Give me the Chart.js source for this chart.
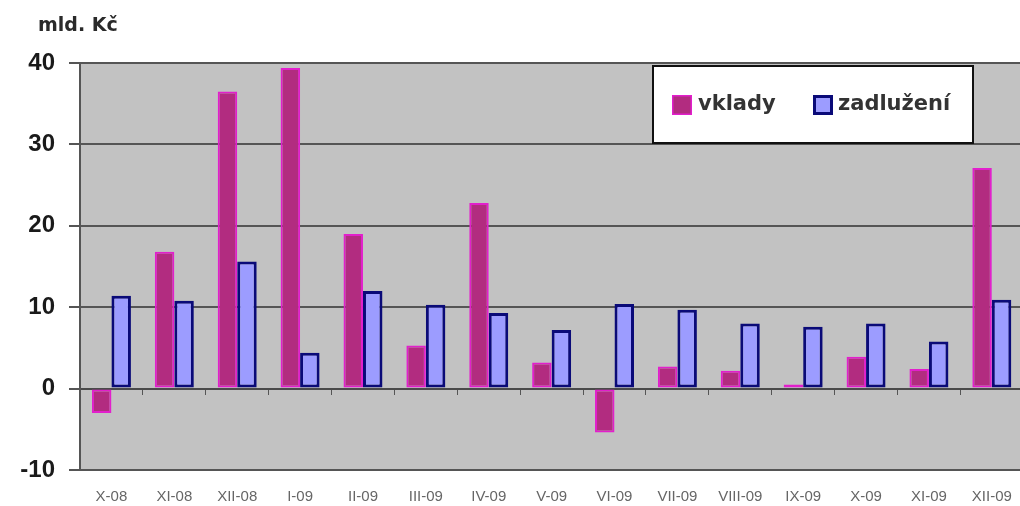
<!DOCTYPE html>
<html>
<head>
<meta charset="utf-8">
<script src="https://cdn.jsdelivr.net/npm/chart.js@4/dist/chart.umd.min.js"></script>
<style>
  html, body { margin: 0; padding: 0; background: #ffffff; overflow: hidden; }
  #wrap { width: 1020px; height: 506px; overflow: hidden; position: relative; }
  canvas { display: block; }
</style>
</head>
<body>
<div id="wrap"><canvas id="c" width="1030" height="506"></canvas></div>
<script>
// Monthly change, bn CZK
const months = ['X-08', 'XI-08', 'XII-08', 'I-09', 'II-09', 'III-09', 'IV-09', 'V-09',
                'VI-09', 'VII-09', 'VIII-09', 'IX-09', 'X-09', 'XI-09', 'XII-09'];
const vklady = [-3.0, 16.8, 36.5, 39.4, 19.0, 5.3, 22.8, 3.2, -5.4, 2.7, 2.2, 0.5, 3.9, 2.4, 27.1];
const zadluzeni = [11.4, 10.8, 15.6, 4.4, 12.0, 10.3, 9.3, 7.2, 10.4, 9.7, 8.0, 7.6, 8.0, 5.8, 10.9];
const yTicks = { min: -10, max: 40, step: 10 };
const unitLabel = 'mld. Kč';

const FONT = '"Liberation Sans", Arial, sans-serif';
const WIDE = '"DejaVu Sans", sans-serif';

// grey plot background
const plotBg = {
  id: 'plotBg',
  beforeDraw(chart) {
    const { ctx, chartArea: a } = chart;
    ctx.save();
    ctx.fillStyle = '#c2c2c2';
    ctx.fillRect(a.left, a.top, a.right - a.left, a.bottom - a.top);
    ctx.restore();
  }
};

// unit caption above the value axis and the boxed legend inside the plot
const decorations = {
  id: 'decorations',
  afterDraw(chart) {
    const { ctx, chartArea: a } = chart;
    ctx.save();
    ctx.fillStyle = '#2a2a2a';
    ctx.font = 'bold 19px ' + WIDE;
    ctx.textBaseline = 'middle';
    ctx.textAlign = 'left';
    ctx.fillText(unitLabel, a.left - 42, a.top - 37);

    const bx = a.left + 573, by = a.top + 3, bw = 320, bh = 77;
    ctx.fillStyle = '#ffffff';
    ctx.fillRect(bx, by, bw, bh);
    ctx.strokeStyle = '#111';
    ctx.lineWidth = 2;
    ctx.strokeRect(bx, by, bw, bh);

    const ds = chart.data.datasets;
    const items = [{ x: bx + 19, tx: bx + 45 }, { x: bx + 160, tx: bx + 185 }];
    ctx.font = 'bold 21px ' + WIDE;
    ds.forEach((d, i) => {
      const it = items[i];
      const sy = by + 29;
      ctx.fillStyle = d.backgroundColor;
      ctx.fillRect(it.x, sy, 20, 20);
      if (d.legendStroke) {
        ctx.strokeStyle = d.borderColor;
        ctx.lineWidth = 3;
        ctx.strokeRect(it.x + 1.5, sy + 1.5, 17, 17);
      } else {
        ctx.strokeStyle = d.borderColor;
        ctx.lineWidth = 1.5;
        ctx.strokeRect(it.x + 0.75, sy + 0.75, 18.5, 18.5);
      }
      ctx.fillStyle = '#333';
      ctx.fillText(d.label, it.tx, sy + 10);
    });
    ctx.restore();
  }
};

new Chart(document.getElementById('c'), {
  type: 'bar',
  data: {
    labels: months,
    datasets: [
      {
        label: 'vklady',
        data: vklady,
        backgroundColor: '#b22c80',
        borderColor: '#e21fcc',
        borderWidth: 2,
        borderSkipped: false
      },
      {
        label: 'zadlužení',
        data: zadluzeni,
        backgroundColor: '#9c9cff',
        borderColor: '#0a0a78',
        borderWidth: 3,
        borderSkipped: false,
        legendStroke: true
      }
    ]
  },
  options: {
    responsive: false,
    animation: false,
    devicePixelRatio: 1,
    categoryPercentage: 0.62,
    barPercentage: 1.0,
    layout: { padding: { top: 63, right: 5, left: 0, bottom: 0 } },
    plugins: { legend: { display: false }, tooltip: { enabled: false } },
    scales: {
      x: {
        type: 'category',
        position: 'bottom',
        grid: { display: false, drawTicks: false },
        border: { display: false },
        ticks: { color: '#666', font: { family: FONT, size: 15 }, padding: 18, maxRotation: 0, autoSkip: false },
        afterFit(s) { s.height = 36; }
      },
      x0: {
        type: 'category',
        labels: months,
        position: { y: 0 },
        offset: true,
        grid: { display: true, drawOnChartArea: false, drawTicks: true, tickLength: 5, color: '#555', offset: true },
        border: { display: true, color: '#4a4a4a', width: 2 },
        ticks: { display: false }
      },
      y: {
        min: yTicks.min,
        max: yTicks.max,
        ticks: { stepSize: yTicks.step, color: '#1a1a1a', font: { family: FONT, size: 24, weight: 'bold' }, padding: 14 },
        grid: { color: '#555', lineWidth: 2, drawTicks: true, tickLength: 11 },
        border: { display: true, color: '#555', width: 2 },
        afterFit(s) { s.width = 80; }
      }
    }
  },
  plugins: [plotBg, decorations]
});
</script>
</body>
</html>
